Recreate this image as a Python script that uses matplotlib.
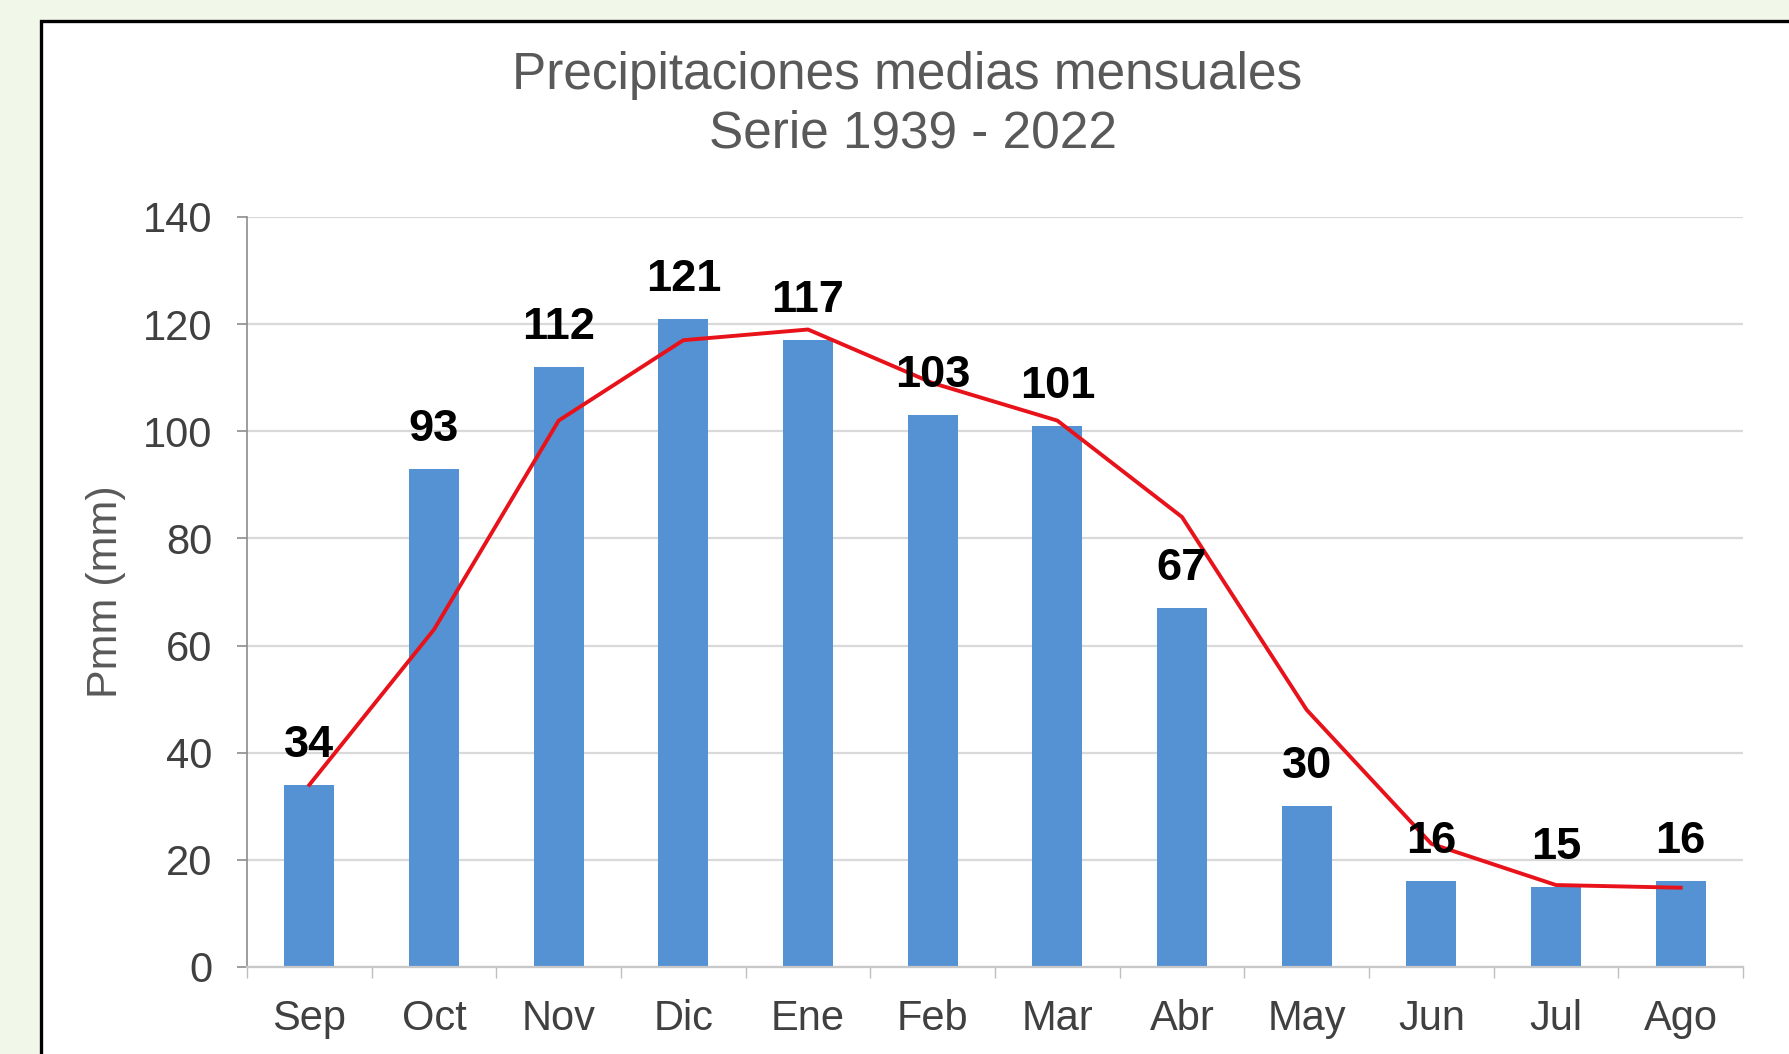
import matplotlib
matplotlib.use("Agg")
import matplotlib.pyplot as plt
from matplotlib.patches import Rectangle
from matplotlib.ticker import FixedLocator, NullFormatter
import numpy as np

months = ["Sep", "Oct", "Nov", "Dic", "Ene", "Feb", "Mar", "Abr", "May", "Jun", "Jul", "Ago"]
precip = [34, 93, 112, 121, 117, 103, 101, 67, 30, 16, 15, 16]
trend = [34, 63, 102, 117, 119, 109, 102, 84, 48, 23, 15.3, 14.8]
yticks = [0, 20, 40, 60, 80, 100, 120, 140]
title1 = "Precipitaciones medias mensuales"
title2 = "Serie 1939 - 2022"
ylabel = "Pmm (mm)"

plt.rcParams['font.family'] = ['Liberation Sans', 'DejaVu Sans']

W, H = 1790, 1054
fig = plt.figure(figsize=(W / 100, H / 100), dpi=100)
fig.patch.set_facecolor("#f1f8ea")

frame = Rectangle((41 / W, -0.2), 1.2, 1 - 21 / H + 0.2, transform=fig.transFigure,
                  facecolor="white", edgecolor="black", linewidth=2.4, zorder=-5)
fig.patches.append(frame)

ax = fig.add_axes([247 / W, 1 - 967 / H, (1743 - 247) / W, (967 - 217) / H])
ax.set_zorder(2)
ax.set_facecolor("none")

x = np.arange(len(months))
bars = ax.bar(x, precip, width=0.40, color="#5592d3", zorder=2)
ax.plot(x, trend, color="#e8121a", linewidth=2.8, zorder=3)

for xi, v in zip(x, precip):
    ax.annotate(str(v), (xi, v), xytext=(0, 28.5), textcoords="offset points",
                ha="center", va="center", fontsize=32.5, fontweight="bold",
                color="black", zorder=4)

ax.set_xlim(-0.5, len(months) - 0.5)
ax.set_ylim(0, 140)
ax.set_yticks(yticks)
ax.set_yticklabels([str(t) for t in yticks])
ax.set_xticks(x)
ax.set_xticklabels(months)
ax.xaxis.set_minor_locator(FixedLocator(np.arange(-0.5, len(months), 1.0)))
ax.xaxis.set_minor_formatter(NullFormatter())

ax.tick_params(axis="x", which="major", length=0, pad=23, labelsize=30, labelcolor="#404040")
ax.tick_params(axis="x", which="minor", length=8, width=1.0, color="#bfbfbf", direction="out")
ax.tick_params(axis="y", which="major", length=7, width=1.2, color="#8c8c8c", pad=18,
               labelsize=30, labelcolor="#404040")

ax.grid(axis="y", color="#d9d9d9", linewidth=1.6, zorder=0)
ax.set_axisbelow(True)
for s in ["top", "right"]:
    ax.spines[s].set_visible(False)
ax.spines["left"].set_color("#8c8c8c")
ax.spines["left"].set_linewidth(1.2)
ax.spines["bottom"].set_color("#c8c8c8")
ax.spines["bottom"].set_linewidth(1.6)

fig.text(0.507, 1 - 75.5 / H, title1, ha="center", va="center", fontsize=37, color="#595959")
fig.text(0.510, 1 - 134.5 / H, title2, ha="center", va="center", fontsize=37, color="#595959")
fig.text(106 / W, 1 - 592 / H, ylabel, rotation=90, ha="center", va="center",
         fontsize=31, color="#595959")

fig.savefig("out.png", dpi=100, facecolor=fig.get_facecolor())
